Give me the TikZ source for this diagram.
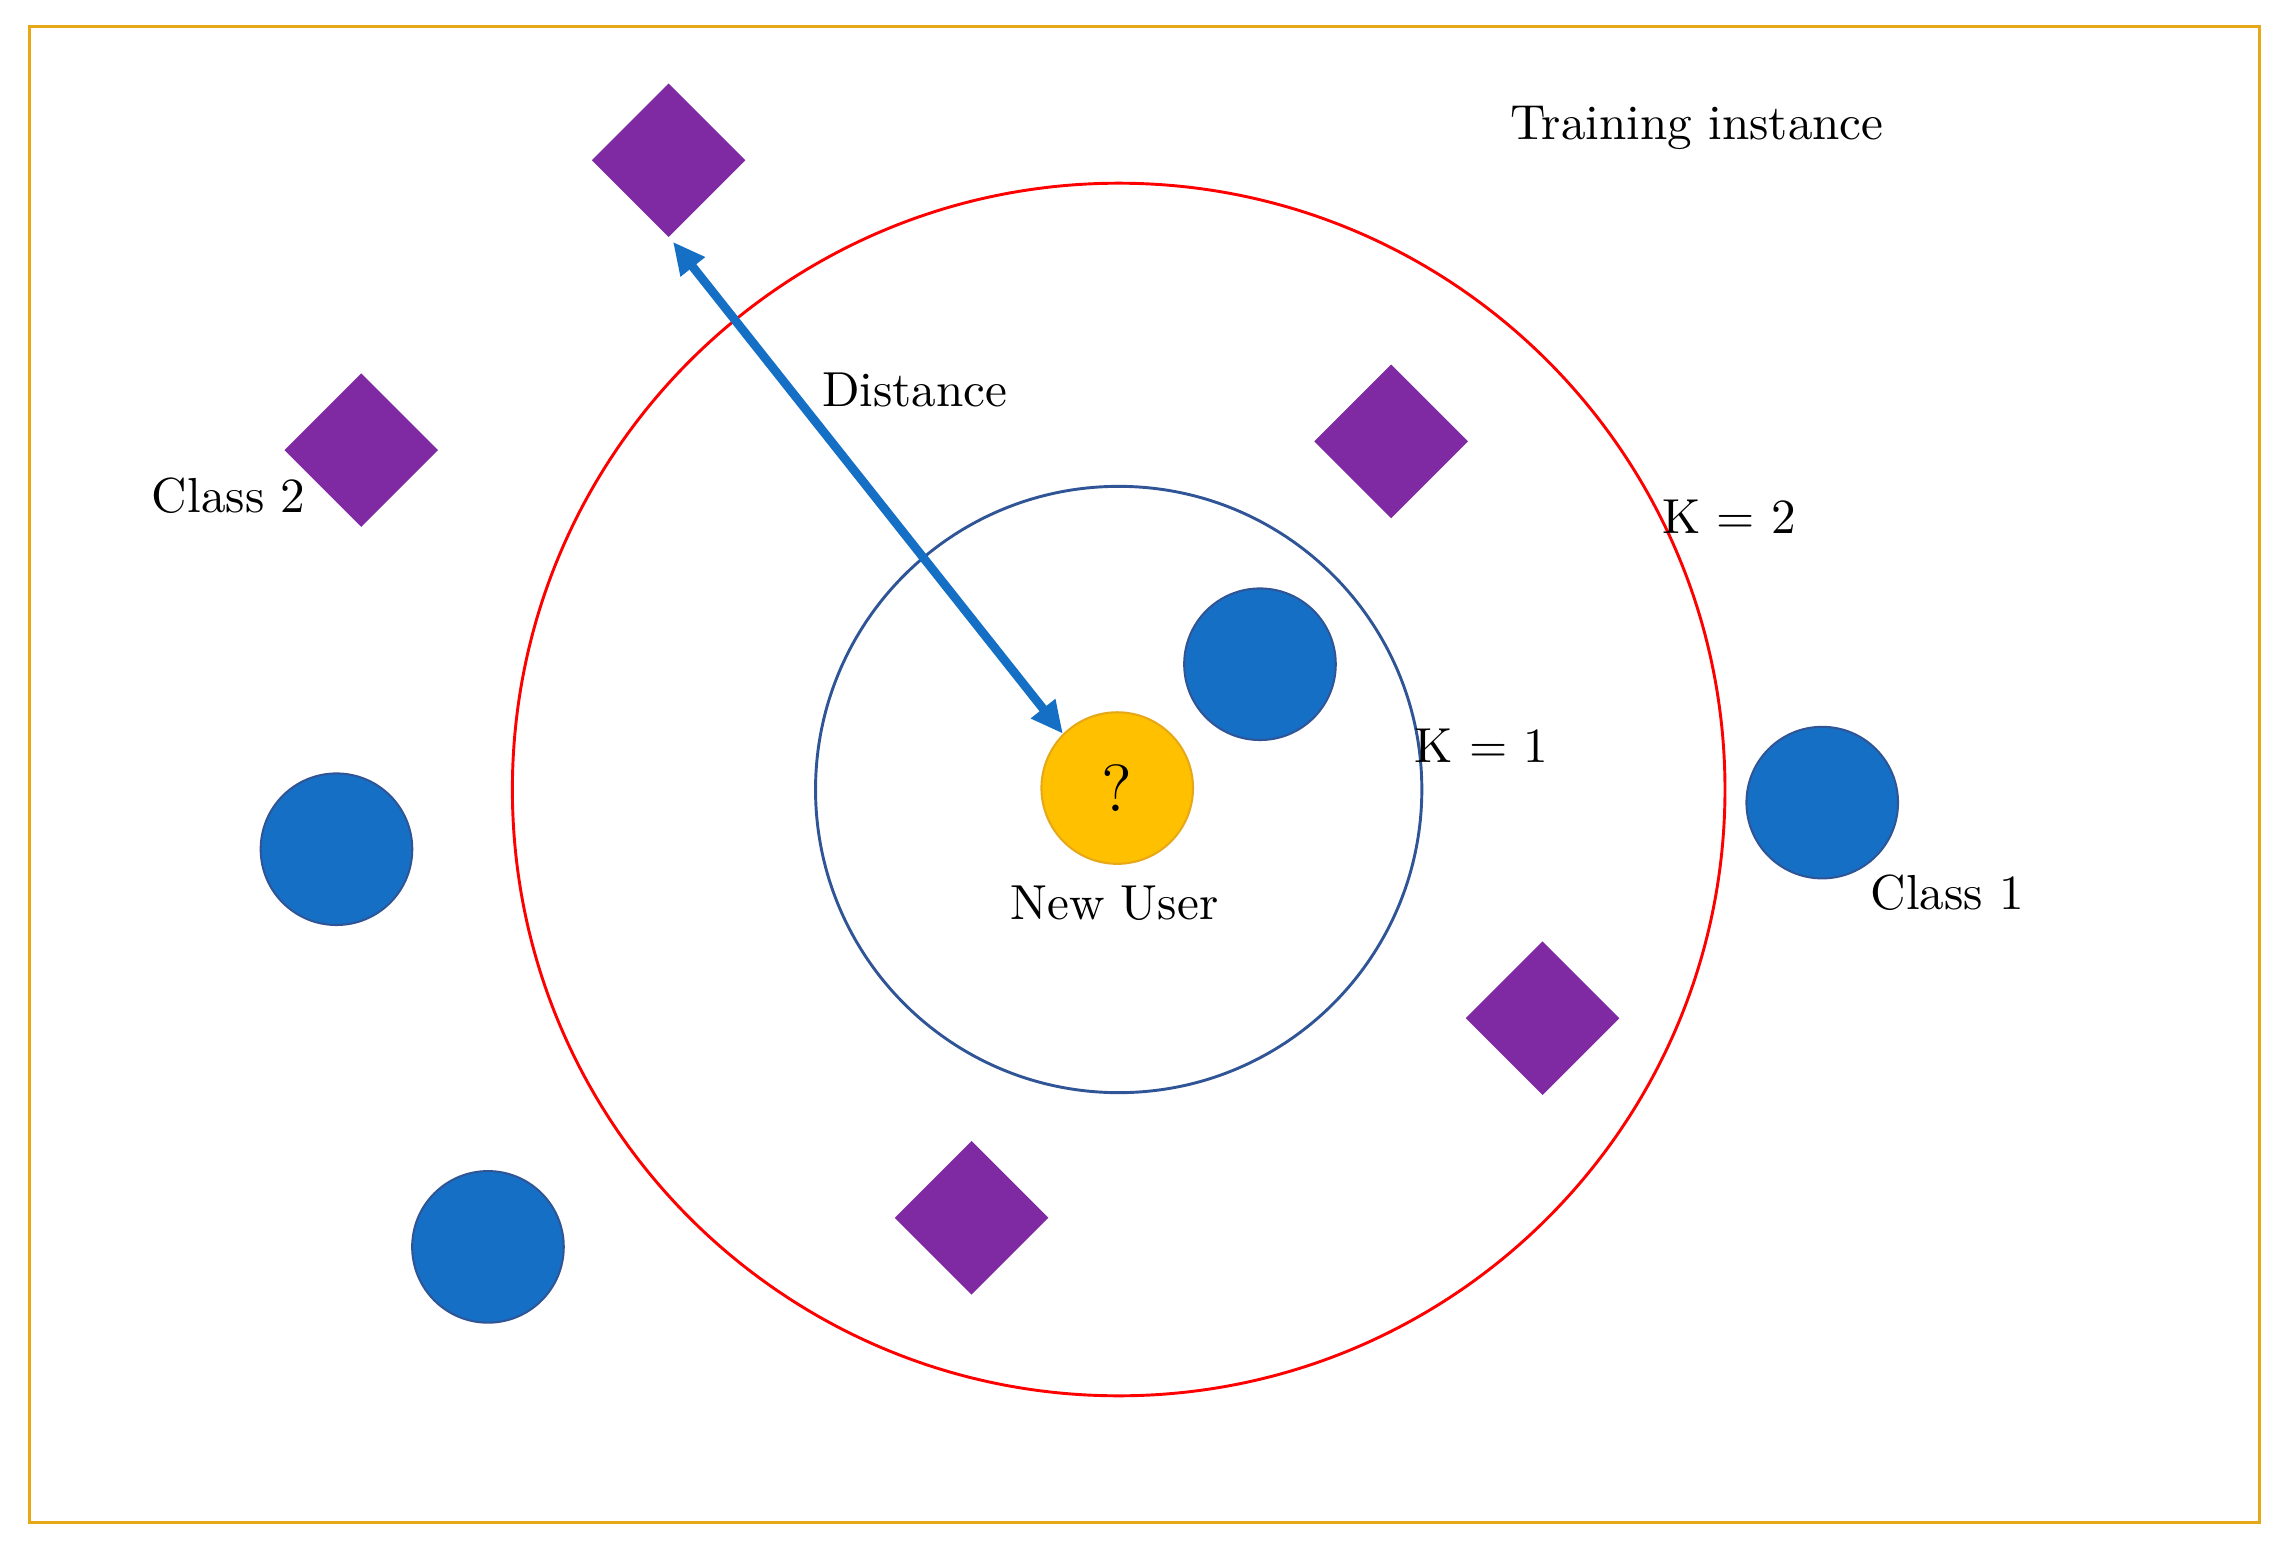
\documentclass[tikz,border=0pt]{standalone}
\usetikzlibrary{shapes.geometric,arrows.meta}
\definecolor{frame}{HTML}{E6A817}
\definecolor{cone}{HTML}{1570C5}
\definecolor{ctwo}{HTML}{7F2AA3}
\definecolor{kone}{HTML}{2F5597}
\definecolor{newu}{HTML}{FFC000}
\begin{document}
\begin{tikzpicture}[x=0.01cm,y=-0.01cm,
  lbl/.style={font=\fontsize{9.6}{11}\selectfont,inner sep=0pt},
  c1/.style={circle,fill=cone,draw=kone,minimum size=1.04cm,inner sep=0pt},
  c2/.style={diamond,fill=ctwo,minimum size=1.06cm,inner sep=0pt}]
\useasboundingbox (0,0) rectangle (1568,1066);
\draw[frame,line width=0.02cm] (20,18) rectangle (1551,1045);
\draw[red,line width=0.02cm] (768,542) circle[radius=4.16cm];
\draw[kone,line width=0.02cm] (768,542) circle[radius=2.08cm];
\node[c1] (b1) at (865,456) {};
\node[c1] (b2) at (1251,551) {};
\node[c1] (b3) at (231,583) {};
\node[c1] (b4) at (335,856) {};
\node[c2] (d1) at (459,110) {};
\node[c2] (d2) at (248,309) {};
\node[c2] (d3) at (955,303) {};
\node[c2] (d4) at (1059,699) {};
\node[c2] (d5) at (667,836) {};
\node[circle,fill=newu,draw=frame,minimum size=1.04cm,inner sep=0pt,font=\fontsize{13}{15}\selectfont] (nu) at (767,541) {?};
\coordinate (a1) at (462,166);
\draw[cone,line width=0.06cm,{Triangle[length=0.22cm,width=0.2cm]}-{Triangle[length=0.22cm,width=0.2cm]}] (a1) -- (nu.north west);
\node[lbl] (t1) at (1165,88) {Training instance};
\node[lbl] (t2) at (628,268) {Distance};
\node[lbl] (t3) at (157,340) {Class 2};
\node[lbl] (t4) at (1187,355) {K = 2};
\node[lbl] (t5) at (1017,512) {K = 1};
\node[lbl] (t6) at (765,620) {New User};
\node[lbl] (t7) at (1337,613) {Class 1};
\end{tikzpicture}
\end{document}
